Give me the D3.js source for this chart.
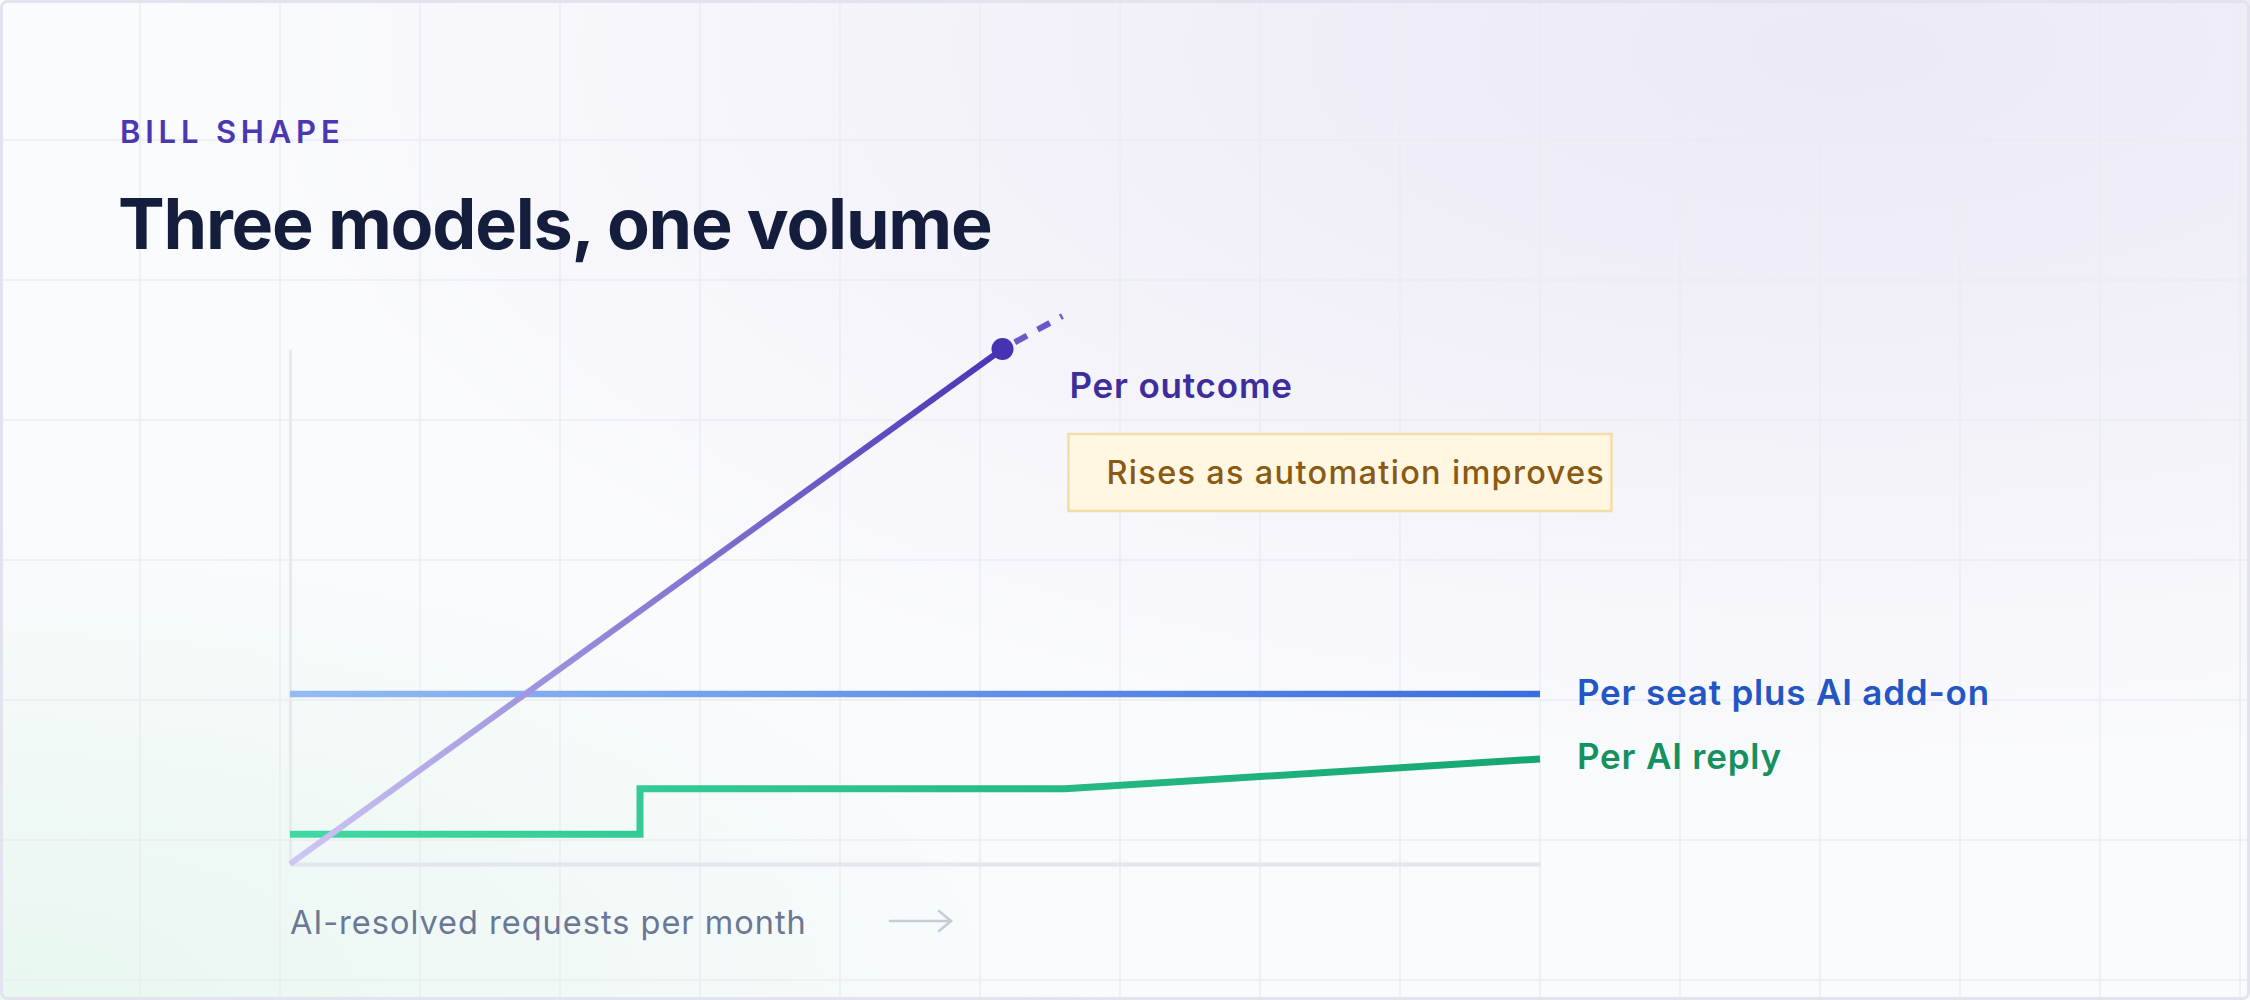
<!DOCTYPE html>
<html lang="en">
<head>
    <meta charset="UTF-8">
    <script src="https://cdn.jsdelivr.net/npm/d3@7"></script>
    <title>Bill shape</title>
    <style>
        html, body { margin: 0; padding: 0; background: #ffffff; }
        svg { display: block; font-family: Inter, "Noto Sans", sans-serif; }
    </style>
</head>
<body>
    <div class="fig"></div>

    <script>
        // chart values
        const xDomain = [0, 100];
        const yDomain = [0, 100];

        // per outcome: solid part up to the dot, then dashed projection
        const outcomeX = [0, 57];
        const outcomeY = [0, 100];
        const outcomeProjX = [57, 61.8];
        const outcomeProjY = [100, 106.4];

        // per seat plus AI add-on: flat
        const seatX = [0, 100];
        const seatY = [33, 33];

        // per AI reply: step then gentle slope
        const replyX = [0, 28, 28, 62, 100];
        const replyY = [5.8, 5.8, 14.6, 14.6, 20.4];

        const seriesLabels = ["Per outcome", "Per seat plus AI add-on", "Per AI reply"];
        const noteText = "Rises as automation improves";
        const xAxisLabel = "AI-resolved requests per month";
        const eyebrow = "BILL SHAPE";
        const title = "Three models, one volume";

        /*------------------- Window setting --------------------*/
        const width = 2250;
        const height = 1000;
        const margin = { left: 290, right: 710, top: 349, bottom: 136 };

        const svg = d3.select(".fig").append("svg")
            .attr("width", width)
            .attr("height", height);

        const defs = svg.append("defs");

        // background tints
        const bgLav = defs.append("radialGradient").attr("id", "bgLav")
            .attr("cx", "0.82").attr("cy", "0.05").attr("r", "0.75");
        bgLav.append("stop").attr("offset", "0%").attr("stop-color", "#ebe9f6").attr("stop-opacity", 1);
        bgLav.append("stop").attr("offset", "100%").attr("stop-color", "#ebe9f6").attr("stop-opacity", 0);

        const bgMint = defs.append("radialGradient").attr("id", "bgMint")
            .attr("cx", "0.0").attr("cy", "1.0").attr("r", "0.5");
        bgMint.append("stop").attr("offset", "0%").attr("stop-color", "#e8f7f0").attr("stop-opacity", 1);
        bgMint.append("stop").attr("offset", "100%").attr("stop-color", "#e8f7f0").attr("stop-opacity", 0);

        svg.append("rect").attr("width", width).attr("height", height).attr("fill", "#fafbfd");
        svg.append("rect").attr("width", width).attr("height", height).attr("fill", "url(#bgLav)");
        svg.append("rect").attr("width", width).attr("height", height).attr("fill", "url(#bgMint)");

        // background grid
        const gridStep = 140;
        svg.append("g").selectAll("line")
            .data(d3.range(gridStep, width, gridStep))
            .enter().append("line")
            .attr("x1", d => d).attr("x2", d => d)
            .attr("y1", 0).attr("y2", height)
            .attr("stroke", "#eaecf2").attr("stroke-width", 1.5);
        svg.append("g").selectAll("line")
            .data(d3.range(gridStep, height, gridStep))
            .enter().append("line")
            .attr("y1", d => d).attr("y2", d => d)
            .attr("x1", 0).attr("x2", width)
            .attr("stroke", "#eaecf2").attr("stroke-width", 1.5);

        // card border
        svg.append("rect")
            .attr("x", 1.5).attr("y", 1.5)
            .attr("width", width - 3).attr("height", height - 3)
            .attr("rx", 6)
            .attr("fill", "none")
            .attr("stroke", "#e3e3f0")
            .attr("stroke-width", 3);

        // headings
        svg.append("text")
            .attr("x", 120).attr("y", 143)
            .attr("fill", "#4a37b1")
            .attr("font-size", 31)
            .attr("font-weight", 600)
            .attr("letter-spacing", 4.8)
            .text(eyebrow);

        svg.append("text")
            .attr("x", 118).attr("y", 249)
            .attr("fill", "#141d3b")
            .attr("font-size", 70)
            .attr("font-weight", 700)
            .attr("letter-spacing", -1.2)
            .text(title);

        /*------------------- Scales --------------------*/
        const x = d3.scaleLinear().domain(xDomain).range([margin.left, width - margin.right]);
        const y = d3.scaleLinear().domain(yDomain).range([height - margin.bottom, margin.top]);

        const line = d3.line().x(d => x(d[0])).y(d => y(d[1]));
        const zip = (xs, ys) => xs.map((v, i) => [v, ys[i]]);

        // axes: plain rules, no ticks
        const xAxis = d3.axisBottom(x).tickValues([]).tickSizeOuter(0);
        const yAxis = d3.axisLeft(y).tickValues([]).tickSizeOuter(0);
        svg.append("g").attr("transform", `translate(0,${y(0)})`).call(xAxis)
            .select(".domain").attr("stroke", "#e4e6ef").attr("stroke-width", 4);
        svg.append("g").attr("transform", `translate(${x(0)},0)`).call(yAxis)
            .select(".domain").attr("stroke", "#e7e9f1").attr("stroke-width", 3);

        // gradient helper along a segment
        const makeGrad = (id, p0, p1, c0, c1) => {
            const g = defs.append("linearGradient").attr("id", id)
                .attr("gradientUnits", "userSpaceOnUse")
                .attr("x1", x(p0[0])).attr("y1", y(p0[1]))
                .attr("x2", x(p1[0])).attr("y2", y(p1[1]));
            g.append("stop").attr("offset", "0%").attr("stop-color", c0);
            g.append("stop").attr("offset", "100%").attr("stop-color", c1);
        };

        const seatData = zip(seatX, seatY);
        const replyData = zip(replyX, replyY);
        const outcomeData = zip(outcomeX, outcomeY);
        const projData = zip(outcomeProjX, outcomeProjY);

        makeGrad("gSeat", seatData[0], seatData[seatData.length - 1], "#92bcf2", "#3a6edc");
        makeGrad("gReply", [replyX[0], replyY[0]], [replyX[replyX.length - 1], replyY[0]], "#41d9a3", "#15a672");
        makeGrad("gOutcome", outcomeData[0], outcomeData[1], "#cfc7f3", "#4734b6");

        // per seat plus AI add-on
        svg.append("path")
            .datum(seatData)
            .attr("d", line)
            .attr("fill", "none")
            .attr("stroke", "url(#gSeat)")
            .attr("stroke-width", 6.5);

        // per AI reply
        svg.append("path")
            .datum(replyData)
            .attr("d", line)
            .attr("fill", "none")
            .attr("stroke", "url(#gReply)")
            .attr("stroke-width", 7);

        // per outcome
        svg.append("path")
            .datum(outcomeData)
            .attr("d", line)
            .attr("fill", "none")
            .attr("stroke", "url(#gOutcome)")
            .attr("stroke-width", 6);

        svg.append("path")
            .datum(projData)
            .attr("d", line)
            .attr("fill", "none")
            .attr("stroke", "#6b58c9")
            .attr("stroke-width", 6)
            .attr("stroke-dasharray", "14 12")
            .attr("stroke-dashoffset", -14);

        svg.append("circle")
            .attr("cx", x(outcomeX[1]))
            .attr("cy", y(outcomeY[1]))
            .attr("r", 11)
            .attr("fill", "#4433b3");

        // series labels
        const labelSize = 35;
        const labelSpacing = 0.8;
        svg.append("text")
            .attr("x", x(outcomeX[1]) + 67)
            .attr("y", y(outcomeY[1]) + 49)
            .attr("fill", "#3d2e9c")
            .attr("font-size", labelSize)
            .attr("font-weight", 600)
            .attr("letter-spacing", labelSpacing)
            .text(seriesLabels[0]);

        svg.append("text")
            .attr("x", x(seatX[1]) + 37)
            .attr("y", y(seatY[1]) + 11)
            .attr("fill", "#2356c4")
            .attr("font-size", labelSize)
            .attr("font-weight", 600)
            .attr("letter-spacing", labelSpacing)
            .text(seriesLabels[1]);

        svg.append("text")
            .attr("x", x(replyX[replyX.length - 1]) + 37)
            .attr("y", y(replyY[replyY.length - 1]) + 10)
            .attr("fill", "#16905e")
            .attr("font-size", labelSize)
            .attr("font-weight", 600)
            .attr("letter-spacing", labelSpacing)
            .text(seriesLabels[2]);

        // annotation box under the outcome label
        const noteX = x(outcomeX[1]) + 66;
        const noteY = y(outcomeY[1]) + 85;
        svg.append("rect")
            .attr("x", noteX).attr("y", noteY)
            .attr("width", 543).attr("height", 77)
            .attr("fill", "#fff7e2")
            .attr("stroke", "#f1dda6")
            .attr("stroke-width", 2.5);
        svg.append("text")
            .attr("x", noteX + 38).attr("y", noteY + 50)
            .attr("fill", "#8a5a12")
            .attr("font-size", 32.5)
            .attr("font-weight", 500)
            .attr("letter-spacing", 1.3)
            .text(noteText);

        // x axis caption and arrow
        svg.append("text")
            .attr("x", x(0)).attr("y", y(0) + 70)
            .attr("fill", "#6a7795")
            .attr("font-size", 32.5)
            .attr("font-weight", 400)
            .attr("letter-spacing", 1)
            .text(xAxisLabel);

        const ax0 = x(0) + 600, ax1 = x(0) + 661, ay = y(0) + 57;
        const arrow = svg.append("g")
            .attr("fill", "none")
            .attr("stroke", "#c5cbd7")
            .attr("stroke-width", 2.5)
            .attr("stroke-linecap", "round");
        arrow.append("line").attr("x1", ax0).attr("x2", ax1).attr("y1", ay).attr("y2", ay);
        arrow.append("path").attr("d", `M${ax1 - 12},${ay - 10} L${ax1},${ay} L${ax1 - 12},${ay + 10}`);
    </script>
</body>
</html>
